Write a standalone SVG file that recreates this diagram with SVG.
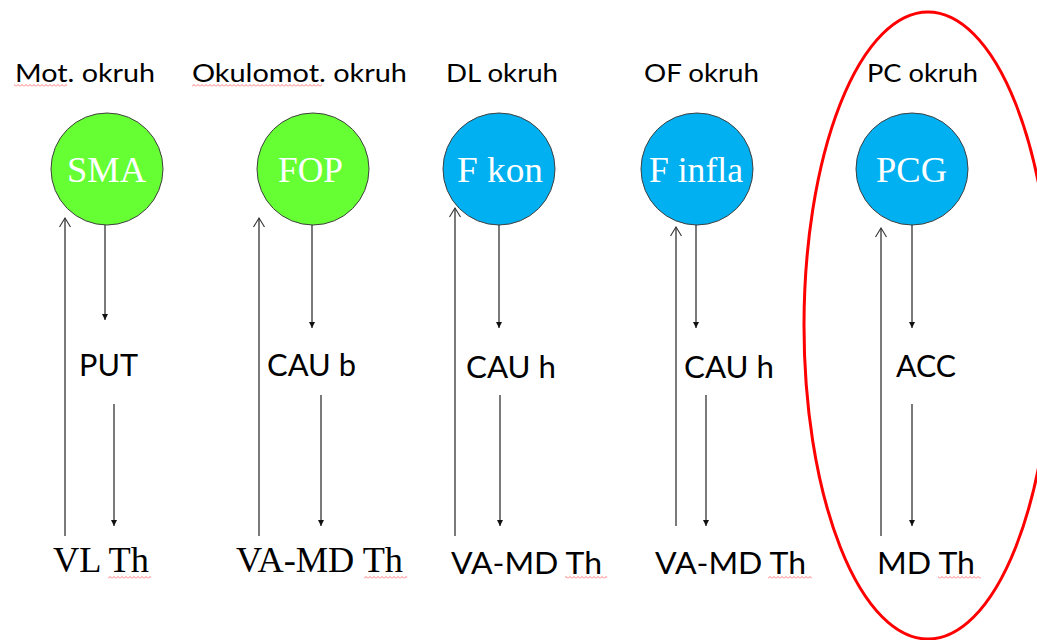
<svg xmlns="http://www.w3.org/2000/svg" width="1037" height="640" viewBox="0 0 1037 640">
  <style>
    .title { font-family: Lato, "Open Sans", "Liberation Sans", sans-serif; font-size: 25.5px; fill: #000; }
    .mid { font-family: Lato, "Open Sans", "Liberation Sans", sans-serif; font-size: 31.5px; fill: #000; }
    .serif { font-family: "Liberation Serif", "Times New Roman", serif; font-size: 36px; fill: #000; }
    .inner { font-family: "Liberation Serif", "Times New Roman", serif; font-size: 36px; fill: #fff; }
    .green { fill: #66ff33; stroke: #404040; stroke-width: 1; }
    .blue { fill: #00b0f0; stroke: #404040; stroke-width: 1; }
    .down { stroke: #222; stroke-width: 1.2; fill: none; marker-end: url(#head); }
    .up { stroke: #222; stroke-width: 1.2; fill: none; marker-end: url(#open); }
    .squig { fill: url(#wave); }
  </style>
  <defs>
    <marker id="head" markerUnits="userSpaceOnUse" viewBox="0 0 6 6" markerWidth="6" markerHeight="6" refX="6" refY="3" orient="auto">
      <path d="M0,0 L6,3 L0,6 z" fill="#111"/>
    </marker>
    <marker id="open" markerUnits="userSpaceOnUse" viewBox="-1 -1 12 14" markerWidth="12" markerHeight="14" refX="9" refY="5.5" orient="auto">
      <path d="M0,0 L9,5.5 L0,11" fill="none" stroke="#333" stroke-width="1.1"/>
    </marker>
    <pattern id="wave" patternUnits="userSpaceOnUse" x="0" y="0" width="4" height="3">
      <path d="M0,2.5 L2,0.5 L4,2.5" fill="none" stroke="#ff5a5a" stroke-width="0.8"/>
    </pattern>
  </defs>

  <!-- red highlight ellipse -->
  <ellipse id="highlight" cx="928" cy="325.5" rx="124" ry="313.5" fill="none" stroke="#ff0000" stroke-width="3"/>

  <!-- titles -->
  <g id="titles">
    <text class="title" x="15" y="82" textLength="140" lengthAdjust="spacingAndGlyphs">Mot. okruh</text>
    <text class="title" x="192" y="82" textLength="215" lengthAdjust="spacingAndGlyphs">Okulomot. okruh</text>
    <text class="title" x="446" y="82" textLength="112" lengthAdjust="spacingAndGlyphs">DL okruh</text>
    <text class="title" x="644" y="82" textLength="115" lengthAdjust="spacingAndGlyphs">OF okruh</text>
    <text class="title" x="867" y="82" textLength="111" lengthAdjust="spacingAndGlyphs">PC okruh</text>
    <rect class="squig" x="14" y="84" width="53" height="3"/>
    <rect class="squig" x="192" y="84" width="130" height="3"/>
  </g>

  <!-- circle nodes -->
  <g id="node-sma">
    <circle class="green" cx="107" cy="169" r="56"/>
    <text class="inner" x="67" y="182" textLength="79" lengthAdjust="spacingAndGlyphs">SMA</text>
  </g>
  <g id="node-fop">
    <circle class="green" cx="313" cy="169" r="56"/>
    <text class="inner" x="278" y="182" textLength="65" lengthAdjust="spacingAndGlyphs">FOP</text>
  </g>
  <g id="node-fkon">
    <circle class="blue" cx="499" cy="169" r="56"/>
    <text class="inner" x="457" y="182" textLength="86" lengthAdjust="spacingAndGlyphs">F kon</text>
  </g>
  <g id="node-finfla">
    <circle class="blue" cx="697" cy="169" r="56"/>
    <text class="inner" x="649" y="182" textLength="94" lengthAdjust="spacingAndGlyphs">F infla</text>
  </g>
  <g id="node-pcg">
    <circle class="blue" cx="912" cy="169" r="56"/>
    <text class="inner" x="876" y="182" textLength="71" lengthAdjust="spacingAndGlyphs">PCG</text>
  </g>

  <!-- middle nodes -->
  <g id="node-put"><text class="mid" x="79" y="376" textLength="59" lengthAdjust="spacingAndGlyphs">PUT</text></g>
  <g id="node-caub"><text class="mid" x="267" y="376" textLength="89" lengthAdjust="spacingAndGlyphs">CAU b</text></g>
  <g id="node-cauh1"><text class="mid" x="466" y="378" textLength="90" lengthAdjust="spacingAndGlyphs">CAU h</text></g>
  <g id="node-cauh2"><text class="mid" x="684" y="378" textLength="90" lengthAdjust="spacingAndGlyphs">CAU h</text></g>
  <g id="node-acc"><text class="mid" x="896" y="377" textLength="60" lengthAdjust="spacingAndGlyphs">ACC</text></g>

  <!-- bottom nodes -->
  <g id="node-vlth">
    <text class="serif" x="53" y="572" textLength="96" lengthAdjust="spacingAndGlyphs">VL Th</text>
    <rect class="squig" x="108" y="576" width="43" height="3"/>
  </g>
  <g id="node-vamdth1">
    <text class="serif" x="236" y="572" textLength="167" lengthAdjust="spacingAndGlyphs">VA-MD Th</text>
    <rect class="squig" x="364" y="576" width="43" height="3"/>
  </g>
  <g id="node-vamdth2">
    <text class="mid" x="451" y="574" textLength="151" lengthAdjust="spacingAndGlyphs">VA-MD Th</text>
    <rect class="squig" x="565" y="576" width="42" height="3"/>
  </g>
  <g id="node-vamdth3">
    <text class="mid" x="655" y="574" textLength="151" lengthAdjust="spacingAndGlyphs">VA-MD Th</text>
    <rect class="squig" x="768" y="576" width="44" height="3"/>
  </g>
  <g id="node-mdth">
    <text class="mid" x="877" y="574" textLength="98" lengthAdjust="spacingAndGlyphs">MD Th</text>
    <rect class="squig" x="938" y="576" width="43" height="3"/>
  </g>

  <!-- connectors -->
  <g id="connectors">
    <!-- column 1 -->
    <line class="down" x1="105" y1="225" x2="105" y2="320"/>
    <line class="down" x1="114" y1="404" x2="114" y2="526"/>
    <line class="up" x1="65" y1="536" x2="65" y2="218"/>
    <!-- column 2 -->
    <line class="down" x1="312" y1="225" x2="312" y2="328"/>
    <line class="down" x1="321" y1="395" x2="321" y2="526"/>
    <line class="up" x1="259" y1="536" x2="259" y2="218"/>
    <!-- column 3 -->
    <line class="down" x1="499" y1="225" x2="499" y2="328"/>
    <line class="down" x1="500" y1="395" x2="500" y2="526"/>
    <line class="up" x1="455" y1="536" x2="455" y2="208"/>
    <!-- column 4 -->
    <line class="down" x1="696" y1="225" x2="696" y2="328"/>
    <line class="down" x1="706" y1="395" x2="706" y2="526"/>
    <line class="up" x1="676" y1="526" x2="676" y2="227"/>
    <!-- column 5 -->
    <line class="down" x1="912" y1="225" x2="912" y2="328"/>
    <line class="down" x1="912" y1="404" x2="912" y2="526"/>
    <line class="up" x1="881" y1="536" x2="881" y2="228"/>
  </g>
</svg>
